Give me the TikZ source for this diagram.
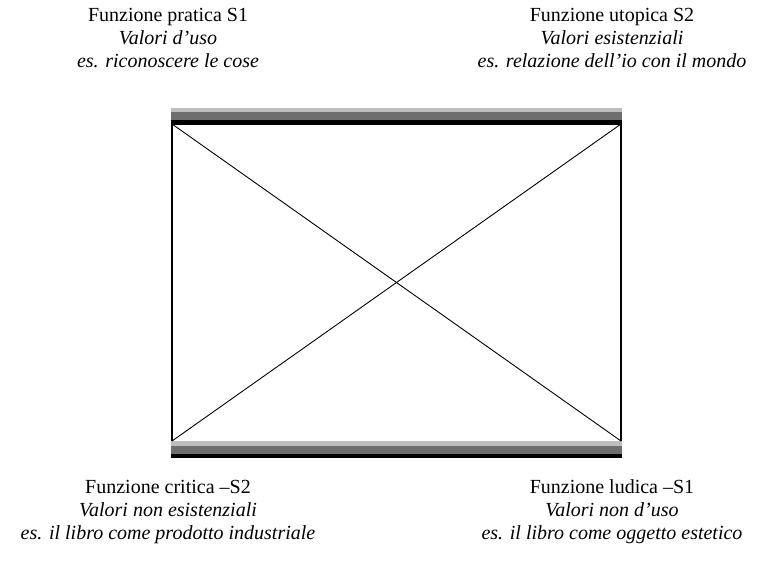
\documentclass[tikz,border=0pt]{standalone}
\usepackage{fontspec}
\setmainfont{Liberation Serif}
\usetikzlibrary{positioning}
\definecolor{ink}{HTML}{000000}
\definecolor{barlight}{HTML}{BEBEBE}
\definecolor{bardark}{HTML}{6E6E6E}
\tikzset{
  every picture/.style={line width=0.8pt, draw=ink, text=ink},
  label/.style={align=center, inner sep=0pt, anchor=north, font=\fontsize{20}{23}\selectfont},
  side/.style={draw=ink, line width=1.3pt},
  cross/.style={draw=ink, line width=0.9pt},
}
\newcommand{\funz}[3]{\rule{0pt}{15pt}#1\\\textit{#2}\\\textit{#3}}

\begin{document}
\begin{tikzpicture}[x=1pt, y=-1pt]
\useasboundingbox (0,0) rectangle (762,566);
% corners of the square
\coordinate (tl) at (172,124);
\coordinate (tr) at (621,124);
\coordinate (bl) at (172,441);
\coordinate (br) at (621,441);
% bars
\fill[barlight] (171,108) rectangle (622,112);
\fill[bardark] (171,112) rectangle (622,120);
\fill[ink] (171,120) rectangle (622,124.5);
\fill[barlight] (171,441) rectangle (622,446);
\fill[bardark] (171,446) rectangle (622,454);
\fill[ink] (171,454) rectangle (622,457.5);
% sides and diagonals
\draw[side] (tl) -- (bl);
\draw[side] (tr) -- (br);
\draw[cross] (tl) -- (br);
\draw[cross] (bl) -- (tr);
% the four functions
\node[label] (s1) at (168,6) {\funz{Funzione pratica S1}{Valori d’uso}{es. riconoscere le cose}};
\node[label] (s2) at (612,6) {\funz{Funzione utopica S2}{Valori esistenziali}{es. relazione dell’io con il mondo}};
\node[label] (ns2) at (168,478) {\funz{Funzione critica –S2}{Valori non esistenziali}{es. il libro come prodotto industriale}};
\node[label] (ns1) at (612,478) {\funz{Funzione ludica –S1}{Valori non d’uso}{es. il libro come oggetto estetico}};
\end{tikzpicture}
\end{document}
